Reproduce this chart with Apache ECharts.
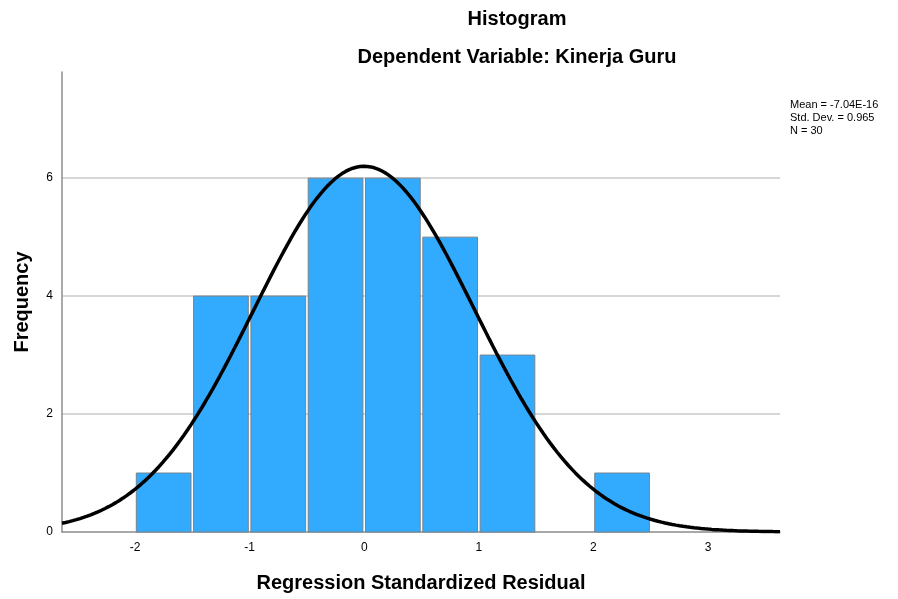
<!DOCTYPE html>
<html>
<head>
<meta charset="utf-8">
<script src="https://cdn.jsdelivr.net/npm/echarts@6/dist/echarts.min.js"></script>
<style>
html,body{margin:0;padding:0;background:#fff;overflow:hidden;}
#chart{width:898px;height:599px;}
</style>
</head>
<body>
<div id="chart"></div>
<script>
// Histogram bins (start) and frequencies
const binStarts = [-2, -1.5, -1, -0.5, 0, 0.5, 1, 1.5, 2];
const binWidth = 0.5;
const frequencies = [1, 4, 4, 6, 6, 5, 3, 0, 1];
// Summary statistics shown on the chart
const statMean = -7.04e-16;
const statSD = 0.965;
const statN = 30;
const statLabels = ['Mean = -7.04E-16', 'Std. Dev. = 0.965', 'N = 30'];
// Axis tick labels
const xTicks = [-2, -1, 0, 1, 2, 3];
const yTicks = [0, 2, 4, 6];

const xMin = -2.637, xMax = 3.628;

const barData = binStarts.map((s, i) => [s, s + binWidth, frequencies[i]]);

// Normal curve fitted from the stated mean / SD / N
const curve = [];
for (let k = 0; k <= 200; k++) {
  const x = xMin + (xMax - xMin) * k / 200;
  const z = (x - statMean) / statSD;
  const y = statN * binWidth * Math.exp(-0.5 * z * z) / (statSD * Math.sqrt(2 * Math.PI));
  curve.push([x, y]);
}

const chart = echarts.init(document.getElementById('chart'), null, {renderer: 'canvas'});
const font = 'Liberation Sans, Arial, sans-serif';
chart.setOption({
  animation: false,
  backgroundColor: '#ffffff',
  title: [
    {text: 'Histogram', left: 517, top: 9, textAlign: 'center', padding: 0,
     textStyle: {fontFamily: font, fontSize: 20, fontWeight: 'bold', color: '#000'}},
    {text: 'Dependent Variable: Kinerja Guru', left: 517, top: 47, textAlign: 'center', padding: 0,
     textStyle: {fontFamily: font, fontSize: 20, fontWeight: 'bold', color: '#000'}}
  ],
  graphic: [{
    type: 'text', left: 790, top: 98,
    style: {text: statLabels.join('\n'), fontFamily: font, fontSize: 11, lineHeight: 13, fill: '#000'}
  }],
  grid: {left: 62, right: 118, top: 72, bottom: 67, containLabel: false, outerBoundsMode: 'none'},
  xAxis: {
    type: 'value', min: xMin, max: xMax,
    name: 'Regression Standardized Residual', nameLocation: 'middle', nameGap: 41,
    nameTextStyle: {fontFamily: font, fontSize: 20, fontWeight: 'bold', color: '#000'},
    axisLine: {show: true, onZero: false, lineStyle: {color: '#8c8c8c', width: 1.5}},
    axisTick: {show: false},
    splitLine: {show: false},
    axisLabel: {customValues: xTicks, fontFamily: font, fontSize: 12, color: '#000', margin: 10,
                formatter: v => String(v)}
  },
  yAxis: {
    type: 'value', min: 0, max: 7.8, interval: 2,
    name: 'Frequency', nameLocation: 'middle', nameGap: 30,
    nameTextStyle: {fontFamily: font, fontSize: 20, fontWeight: 'bold', color: '#000'},
    axisLine: {show: true, onZero: false, lineStyle: {color: '#8c8c8c', width: 1.5}},
    axisTick: {show: false},
    splitLine: {show: true, showMinLine: false, showMaxLine: false, lineStyle: {color: '#c8c8c8', width: 1.5}},
    axisLabel: {customValues: yTicks, fontFamily: font, fontSize: 12, color: '#000', margin: 9}
  },
  series: [
    {
      type: 'custom',
      data: barData,
      z: 2,
      renderItem: function (params, api) {
        if (!(api.value(2) > 0)) return null;
        const p0 = api.coord([api.value(0), api.value(2)]);
        const p1 = api.coord([api.value(1), 0]);
        const inset = 1.3;
        return {
          type: 'rect',
          shape: {x: p0[0] + inset, y: p0[1], width: p1[0] - p0[0] - 2 * inset, height: p1[1] - p0[1]},
          style: {fill: '#32abfe', stroke: '#75838e', lineWidth: 1}
        };
      }
    },
    {
      type: 'line', data: curve, showSymbol: false, smooth: false, z: 3,
      lineStyle: {color: '#000', width: 3.5}
    }
  ]
});
</script>
</body>
</html>
